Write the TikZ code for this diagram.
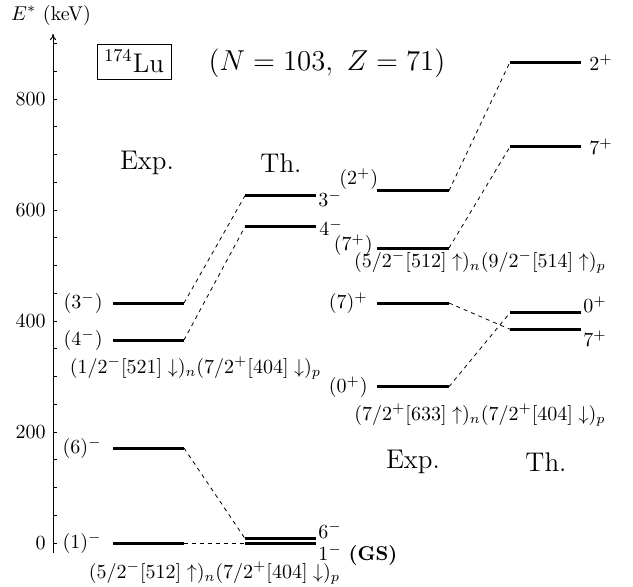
\documentclass[tikz,border=0pt]{standalone}
\usetikzlibrary{arrows.meta}
\begin{document}
\begin{tikzpicture}[x=0.5pt,y=-0.5pt,
  lvl/.style={line width=1.5pt},
  conn/.style={dash pattern=on 2pt off 2pt, line width=0.4pt},
  lab/.style={inner sep=0pt},
  head/.style={font=\fontsize{13.5}{16}\selectfont},
]
\useasboundingbox (0,0) rectangle (633,586);
% axis
\coordinate (ax0) at (53,553);
\coordinate (ax1) at (53,34);
\draw[line width=0.5pt,-{To[length=3pt,width=3pt]}] (ax0) -- (ax1);
\foreach \e in {0,50,...,900} \draw[line width=0.4pt] (53,{543-0.555*\e}) -- ++(3.5,0);
\foreach \e in {0,200,...,800} \node[lab,anchor=east] at (46,{543-0.555*\e}) {\e};
\node[lab] (ylab) at (51,15) {$E^*$ (keV)};
% header
\node[draw,line width=0.4pt,inner sep=2pt,head,minimum width=37pt,minimum height=17.5pt] (nuc) at (134,61.5) {$^{174}$Lu};
\node[head] (nz) at (327,63) {$(N=103,\ Z=71)$};
\node[head] (exp1) at (147,163) {Exp.};
\node[head] (th1) at (281,163) {Th.};
\node[head] (exp2) at (413,462) {Exp.};
\node[head] (th2) at (546,462) {Th.};
% left group levels
\coordinate (e1a) at (113,543);   \coordinate (e1b) at (184,543);
\coordinate (e6a) at (113,448);   \coordinate (e6b) at (184,448);
\coordinate (e4a) at (113,340);   \coordinate (e4b) at (184,340);
\coordinate (e3a) at (113,303);   \coordinate (e3b) at (184,303);
\coordinate (t1a) at (245,543);   \coordinate (t1b) at (316,543);
\coordinate (t6a) at (245,538.5); \coordinate (t6b) at (316,538.5);
\coordinate (t4a) at (245,226.7); \coordinate (t4b) at (316,226.7);
\coordinate (t3a) at (245,195.7); \coordinate (t3b) at (316,195.7);
% right group levels
\coordinate (f2a) at (377,190.7); \coordinate (f2b) at (449,190.7);
\coordinate (f7a) at (377,248);   \coordinate (f7b) at (449,248);
\coordinate (g7a) at (377,303);   \coordinate (g7b) at (449,303);
\coordinate (g0a) at (377,386.7); \coordinate (g0b) at (449,386.7);
\coordinate (u2a) at (510,62);    \coordinate (u2b) at (581,62);
\coordinate (u7a) at (510,146.7); \coordinate (u7b) at (581,146.7);
\coordinate (v0a) at (510,312.7); \coordinate (v0b) at (581,312.7);
\coordinate (v7a) at (510,329.3); \coordinate (v7b) at (581,329.3);
\foreach \l in {e1,e6,e4,e3,t1,t6,t4,t3,f2,f7,g7,g0,u2,u7,v0,v7}
  \draw[lvl] (\l a) -- (\l b);
% connectors
\draw[conn] (e1b) -- (t1a);
\draw[conn] (e6b) -- (t6a);
\draw[conn] (e4b) -- (t4a);
\draw[conn] (e3b) -- (t3a);
\draw[conn] (f2b) -- (u2a);
\draw[conn] (f7b) -- (u7a);
\draw[conn] (g7b) -- (v7a);
\draw[conn] (g0b) -- (v0a);
% level labels
\node[lab,anchor=east] (le1) at (102,543) {$(1)^-$};
\node[lab,anchor=east] (le6) at (102,448) {$(6)^-$};
\node[lab,anchor=east] (le4) at (103,340) {$(4^-)$};
\node[lab,anchor=east] (le3) at (103,303) {$(3^-)$};
\node[lab,anchor=south west] (lt6) at (318,538.5) {$6^-$};
\node[lab,anchor=north west] (lt1) at (318,544) {$1^-$ \textbf{(GS)}};
\node[lab,anchor=west] (lt4) at (319,228) {$4^-$};
\node[lab,anchor=west] (lt3) at (318,199) {$3^-$};
\node[lab,anchor=south east] (lf2) at (378.5,190) {$(2^+)$};
\node[lab,anchor=east] (lf7) at (373,245) {$(7^+)$};
\node[lab,anchor=east] (lg7) at (368,303) {$(7)^+$};
\node[lab,anchor=east] (lg0) at (368,387) {$(0^+)$};
\node[lab,anchor=west] (lu2) at (589,63) {$2^+$};
\node[lab,anchor=west] (lu7) at (589,147) {$7^+$};
\node[lab,anchor=south west] (lv0) at (583,313) {$0^+$};
\node[lab,anchor=north west] (lv7) at (583,330) {$7^+$};
% configurations
\node[lab] (c1) at (195.5,368) {$(1/2^-[521]\downarrow)_n(7/2^+[404]\downarrow)_p$};
\node[lab] (c2) at (214.5,573) {$(5/2^-[512]\uparrow)_n(7/2^+[404]\downarrow)_p$};
\node[lab] (c3) at (480,262) {$(5/2^-[512]\uparrow)_n(9/2^-[514]\uparrow)_p$};
\node[lab] (c4) at (480,415) {$(7/2^+[633]\uparrow)_n(7/2^+[404]\downarrow)_p$};
\end{tikzpicture}
\end{document}
